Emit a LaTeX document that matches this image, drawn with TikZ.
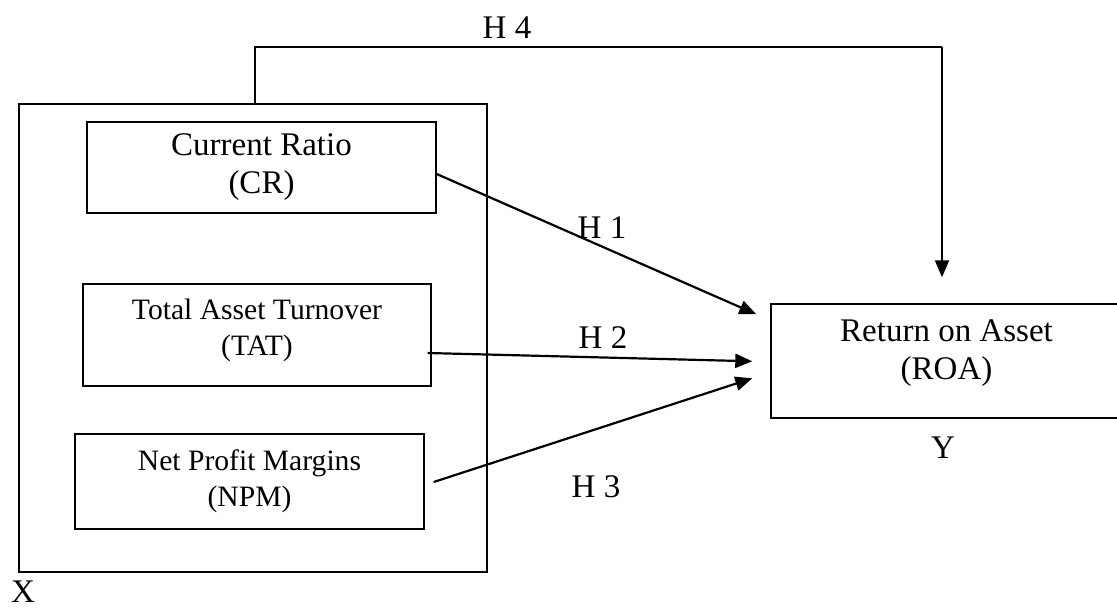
\documentclass[tikz,border=0pt]{standalone}
\usepackage{fontspec}
\setmainfont{Liberation Serif}
\usetikzlibrary{arrows.meta,calc}
\begin{document}
\begin{tikzpicture}[x=0.5pt,y=-0.5pt,
  bigtext/.style={font=\fontsize{16.5}{19}\selectfont},
  smalltext/.style={font=\fontsize{14.8}{18}\selectfont},
  varbox/.style={draw,line width=0.7pt,align=center,inner sep=0pt},
  outerbox/.style={draw,line width=0.7pt,inner sep=0pt},
  path arrow/.style={line width=1.1pt,-{Triangle[length=8.5pt,width=7pt]}},
  hlabel/.style={font=\fontsize{16.5}{19}\selectfont,inner sep=0pt}
]
\useasboundingbox (0,0) rectangle (1117,608);
\clip (0,0) rectangle (1117,608);
% outer box
\node[outerbox,minimum width=234pt,minimum height=234pt] (outer) at (253,338) {};
% inner boxes
\node[varbox,bigtext,minimum width=174.5pt,minimum height=45.5pt] (CR) at (261.5,167.5) {Current Ratio\\(CR)};
\node[varbox,smalltext,minimum width=174pt,minimum height=51pt,text depth=8pt] (TAT) at (257,335) {Total Asset Turnover\\(TAT)};
\node[varbox,smalltext,minimum width=174.5pt,minimum height=47.5pt] (NPM) at (249.5,481.5) {Net Profit Margins\\(NPM)};
\node[varbox,bigtext,minimum width=175.5pt,minimum height=57pt,text depth=11.5pt] (ROA) at (946.5,361) {Return on Asset\\(ROA)};
% labels
\node[hlabel,anchor=south] (lx) at (23,603) {X};
\node[hlabel] (ly) at (943,448) {Y};
\node[hlabel] (lh1) at (602,228) {H 1};
\node[hlabel] (lh2) at (603,338) {H 2};
\node[hlabel] (lh3) at (596,487) {H 3};
\node[hlabel] (lh4) at (507,28) {H 4};
% connectors
\draw[path arrow] ($(CR.east)+(0,6.5)$) -- ($(ROA.north west)+(-14,11)$);
\draw[path arrow] ($(TAT.east)+(-4,18)$) -- ($(ROA.north west)+(-18,58)$);
\draw[path arrow] ($(NPM.east)+(9,0.5)$) -- ($(ROA.north west)+(-18,75)$);
\coordinate (h4c) at (942,47);
\draw[line width=0.6pt] ($(outer.north)+(2,0)$) |- (h4c);
\draw[path arrow,line width=1pt] (h4c) -- ($(ROA.north)+(-4.5,-26)$);
\end{tikzpicture}
\end{document}
